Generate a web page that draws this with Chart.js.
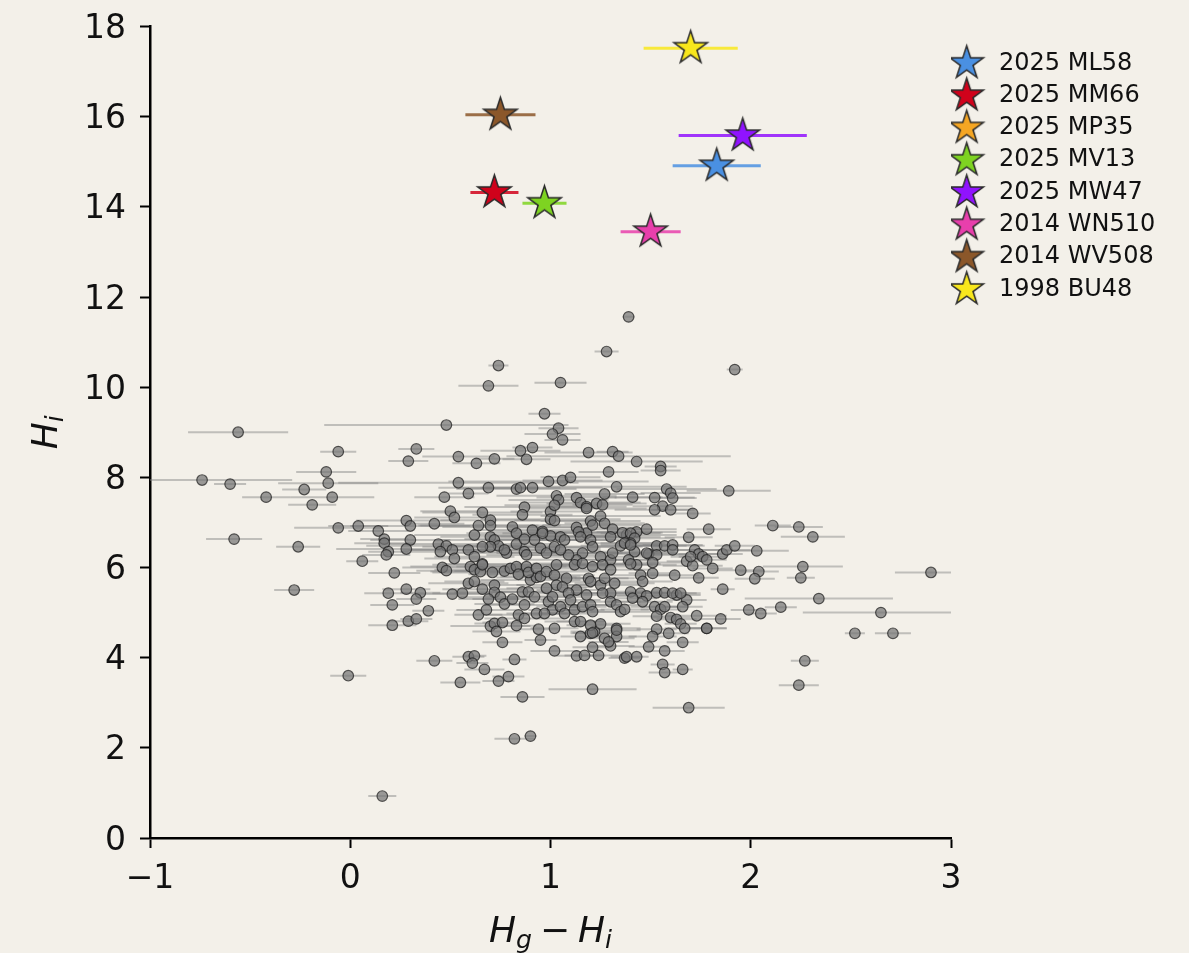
<!DOCTYPE html>
<html><head><meta charset="utf-8">
<script src="https://cdn.jsdelivr.net/npm/chart.js@4.4.1/dist/chart.umd.min.js"></script>
<style>html,body{margin:0;padding:0;background:#f3f0e9;}canvas{display:block;}</style>
</head><body>
<canvas id="c" width="1189" height="953"></canvas>
<script>
// ---------------- data ----------------
const xTickValues = [-1, 0, 1, 2, 3];
const xTickLabels = ['\u22121', '0', '1', '2', '3'];
const yTickValues = [0, 2, 4, 6, 8, 10, 12, 14, 16, 18];
const yTickLabels = ['0', '2', '4', '6', '8', '10', '12', '14', '16', '18'];
const xTitle = 'H_g \u2212 H_i';
const yTitle = 'H_i';

const starNames = ['2025 ML58', '2025 MM66', '2025 MP35', '2025 MV13', '2025 MW47', '2014 WN510', '2014 WV508', '1998 BU48'];
const starX =   [1.83, 0.72, null, 0.97, 1.96, 1.50, 0.75, 1.70];
const starY =   [14.91, 14.32, null, 14.08, 15.58, 13.45, 16.04, 17.52];
const starErr = [0.22, 0.12, null, 0.11, 0.32, 0.15, 0.175, 0.235];
const starColors = ['#4a90e2', '#d0021b', '#f5a623', '#7ed321', '#9013fe', '#e83fac', '#8b572a', '#f8e71c'];

const grayX = [
1.39,1.28,0.74,0.69,1.05,1.92,0.97,-0.56,0.48,1.04,
1.01,1.06,-0.06,0.33,0.85,0.91,1.19,1.31,1.34,0.54,
0.72,0.88,0.29,1.43,0.63,1.55,1.55,1.29,-0.74,-0.60,
-0.12,-0.11,-0.23,-0.42,-0.09,-0.19,0.54,0.47,0.59,0.69,
0.83,0.85,0.91,0.99,1.06,1.10,1.33,1.27,1.41,1.58,
1.60,1.61,1.52,1.56,1.60,1.52,1.89,1.71,1.03,1.04,
1.13,1.15,1.23,1.26,1.18,0.50,0.52,0.66,0.87,0.86,
1.00,1.00,1.02,1.25,1.20,1.27,1.13,1.18,1.14,-0.06,
0.04,0.14,0.17,0.17,0.19,0.18,0.28,0.30,0.30,0.28,
0.42,0.64,0.70,0.70,0.62,0.44,0.48,0.51,0.45,0.52,
0.59,0.70,0.72,0.74,0.78,0.81,0.83,0.83,0.87,0.88,
0.91,0.92,-0.58,-0.26,0.06,0.22,0.46,0.48,0.60,0.62,
0.65,0.66,0.71,0.77,0.80,0.83,0.84,0.88,0.90,0.93,
-0.28,0.19,0.28,0.35,0.33,0.21,0.39,0.21,0.29,0.33,
0.51,0.56,0.59,0.62,0.66,0.72,0.72,0.69,0.75,0.77,
0.81,0.86,0.89,0.92,0.87,0.84,0.87,0.93,0.64,0.68,
0.70,0.72,0.76,0.73,0.83,0.76,0.82,0.42,0.59,0.62,
0.61,0.67,0.79,0.74,0.55,-0.01,0.86,0.82,0.90,0.16,
1.69,1.21,1.79,1.69,2.11,2.24,2.31,1.53,1.57,1.61,
1.49,1.53,1.51,1.72,1.74,1.76,1.68,1.71,1.70,1.86,
1.88,1.92,2.03,1.81,1.95,2.04,2.02,1.74,1.62,2.26,
2.25,2.90,3.12,1.86,2.34,1.99,2.05,2.15,2.65,2.52,
2.71,2.27,2.24,1.73,1.85,1.78,1.66,1.66,1.56,1.57,
1.49,1.57,1.68,1.66,1.63,1.53,1.57,1.61,1.65,1.52,
1.55,1.53,1.60,1.63,1.65,1.67,1.53,1.51,1.59,1.33,
1.33,1.37,1.43,1.38,1.02,1.13,1.17,1.24,1.21,1.30,
1.27,1.15,1.22,0.94,0.95,1.02,1.12,1.15,1.25,1.20,
1.29,1.33,0.87,0.96,1.00,0.77,0.70,0.66,0.62,0.66,
0.95,0.98,1.02,0.96,1.02,1.18,1.21,1.31,1.38,1.43,
1.48,1.36,1.40,1.42,1.35,1.40,1.42,1.30,1.37,1.40,
1.61,1.05,1.07,1.15,1.20,1.21,1.16,1.13,1.09,1.25,
1.30,1.31,1.05,1.48,1.43,1.39,1.78,1.12,1.16,1.21,
1.26,1.30,1.40,0.89,0.93,0.95,0.98,1.02,1.03,1.08,
1.03,1.06,1.19,1.20,1.25,1.27,1.32,1.45,1.51,1.46,
1.30,1.26,0.98,0.99,1.01,0.97,1.13,1.09,1.18,1.10,
1.05,1.01,1.07,1.12,1.16,1.20,1.21,1.30,1.33,1.35,
1.37,1.40,1.45,1.48,1.41,1.46,1.57,1.78,1.20,1.21
];
const grayY = [
11.56,10.79,10.48,10.03,10.10,10.39,9.41,9.00,9.16,9.09,
8.96,8.83,8.57,8.63,8.59,8.66,8.55,8.57,8.47,8.46,
8.41,8.40,8.36,8.35,8.31,8.24,8.15,8.12,7.94,7.85,
8.12,7.87,7.73,7.56,7.56,7.39,7.88,7.56,7.64,7.77,
7.74,7.77,7.77,7.91,7.93,8.00,7.79,7.63,7.56,7.74,
7.65,7.54,7.55,7.36,7.28,7.28,7.70,7.20,7.59,7.50,
7.55,7.44,7.42,7.39,7.35,7.25,7.11,7.22,7.34,7.17,
7.24,7.07,7.04,7.14,7.03,6.98,6.89,6.76,6.79,6.88,
6.92,6.81,6.63,6.54,6.35,6.28,7.04,6.92,6.61,6.41,
6.97,6.93,7.05,6.93,6.72,6.52,6.48,6.39,6.35,6.20,
6.39,6.68,6.61,6.48,6.32,6.90,6.76,6.52,6.35,6.28,
6.83,6.61,6.63,6.46,6.14,5.88,6.00,5.93,6.02,5.95,
5.91,6.08,5.89,5.92,5.98,6.02,5.85,6.02,5.72,5.78,
5.50,5.43,5.52,5.44,5.30,5.17,5.04,4.72,4.81,4.86,
5.41,5.43,5.65,5.69,5.52,5.61,5.45,5.30,5.34,5.19,
5.30,5.46,5.46,5.35,5.17,4.95,4.87,4.98,4.95,5.06,
4.70,4.76,4.78,4.58,4.71,4.34,3.96,3.93,4.02,4.04,
3.88,3.74,3.58,3.48,3.45,3.60,3.13,2.20,2.26,0.93,
2.89,3.30,6.85,6.67,6.93,6.90,6.68,6.48,6.48,6.50,
6.30,6.28,6.11,6.39,6.30,6.24,6.14,6.04,6.24,6.30,
6.39,6.48,6.37,5.98,5.94,5.91,5.75,5.77,5.83,6.02,
5.77,5.89,5.37,5.52,5.31,5.06,4.98,5.12,5.00,4.54,
4.54,3.93,3.39,4.93,4.86,4.65,4.34,3.74,3.85,3.67,
4.24,4.15,5.28,5.13,5.39,5.44,5.44,5.43,5.43,5.13,
5.07,4.92,4.89,4.85,4.75,4.65,4.63,4.47,4.54,4.65,
4.47,3.99,4.02,4.02,4.15,4.04,4.05,4.05,4.23,4.26,
4.43,4.47,4.58,4.63,4.39,4.65,4.80,4.80,4.75,4.54,
4.35,4.61,6.63,6.80,6.70,6.39,6.46,6.46,6.24,6.06,
6.43,6.32,6.46,6.76,7.38,7.31,6.94,6.85,6.72,6.79,
6.85,6.77,6.76,6.65,6.48,6.54,6.35,6.68,6.54,6.50,
6.39,6.68,6.61,6.68,6.61,6.46,6.32,6.17,6.28,6.24,
6.17,6.32,6.39,6.32,6.06,6.17,6.17,6.06,6.09,6.02,
6.06,5.95,6.08,5.89,5.98,5.80,5.91,5.83,6.06,5.76,
5.61,5.57,5.76,5.69,5.61,5.76,5.65,5.83,5.87,5.69,
5.43,5.43,5.54,5.24,5.06,4.98,5.50,5.43,5.39,5.28,
5.13,5.35,4.98,5.06,5.13,5.17,5.02,5.24,5.17,5.02,
5.07,5.46,5.43,5.37,5.32,5.24,5.13,4.65,4.72,4.55
];
const grayErr = [
0.03,0.06,0.05,0.15,0.13,0.04,0.08,0.25,0.61,0.10,
0.14,0.09,0.09,0.09,0.20,0.10,0.22,0.08,0.56,0.18,
0.10,0.12,0.10,0.33,0.12,0.08,0.10,0.15,0.45,0.08,
0.15,0.25,0.11,0.12,0.21,0.12,0.60,0.15,0.10,0.25,
0.30,0.20,0.35,0.50,0.20,0.15,0.35,0.20,0.15,0.25,
0.15,0.12,0.20,0.15,0.10,0.20,0.21,0.09,0.30,0.25,
0.20,0.30,0.25,0.15,0.20,0.15,0.20,0.30,0.30,0.25,
0.20,0.35,0.20,0.30,0.25,0.20,0.30,0.25,0.20,0.22,
0.15,0.15,0.12,0.15,0.10,0.12,0.25,0.30,0.20,0.35,
0.15,0.30,0.25,0.35,0.30,0.30,0.40,0.25,0.20,0.15,
0.30,0.25,0.30,0.30,0.25,0.35,0.25,0.20,0.30,0.20,
0.30,0.25,0.14,0.11,0.08,0.13,0.20,0.15,0.30,0.20,
0.25,0.20,0.30,0.25,0.20,0.30,0.25,0.20,0.25,0.20,
0.10,0.12,0.12,0.10,0.10,0.11,0.08,0.12,0.10,0.08,
0.20,0.15,0.20,0.15,0.20,0.15,0.20,0.15,0.20,0.15,
0.20,0.15,0.20,0.15,0.20,0.15,0.20,0.15,0.12,0.15,
0.20,0.10,0.10,0.12,0.10,0.10,0.06,0.09,0.08,0.06,
0.08,0.10,0.08,0.08,0.10,0.09,0.11,0.10,0.03,0.07,
0.18,0.22,0.11,0.12,0.09,0.12,0.16,0.15,0.20,0.15,
0.20,0.15,0.15,0.12,0.10,0.12,0.10,0.15,0.10,0.10,
0.12,0.10,0.16,0.10,0.12,0.10,0.10,0.10,0.12,0.20,
0.07,0.18,0.12,0.06,0.37,0.09,0.08,0.08,0.39,0.05,
0.09,0.07,0.10,0.15,0.10,0.10,0.08,0.05,0.06,0.08,
0.10,0.10,0.10,0.10,0.12,0.15,0.10,0.12,0.10,0.12,
0.10,0.12,0.10,0.10,0.08,0.10,0.10,0.12,0.10,0.12,
0.10,0.08,0.06,0.08,0.12,0.10,0.10,0.12,0.10,0.12,
0.15,0.10,0.12,0.10,0.08,0.12,0.15,0.12,0.15,0.10,
0.10,0.12,0.30,0.25,0.30,0.25,0.20,0.30,0.20,0.25,
0.30,0.25,0.30,0.20,0.25,0.30,0.25,0.20,0.25,0.20,
0.15,0.20,0.15,0.20,0.20,0.15,0.20,0.25,0.20,0.15,
0.15,0.30,0.25,0.30,0.20,0.25,0.20,0.25,0.20,0.25,
0.20,0.25,0.20,0.15,0.20,0.15,0.10,0.20,0.25,0.20,
0.25,0.20,0.15,0.20,0.25,0.20,0.25,0.20,0.25,0.20,
0.20,0.15,0.20,0.15,0.20,0.15,0.20,0.15,0.12,0.15,
0.20,0.15,0.20,0.15,0.12,0.15,0.20,0.15,0.20,0.15,
0.12,0.15,0.12,0.15,0.12,0.15,0.12,0.15,0.12,0.15,
0.12,0.15,0.12,0.15,0.12,0.15,0.12,0.10,0.12,0.10
];

// ---------------- styling helpers ----------------
const FONT = '"DejaVu Sans"';
const TEXT_COLOR = '#111111';
Chart.defaults.font.family = FONT;
const STAR_R = 17.5;
const LEG_FONT = 24, LEG_PAD = 8.3, LEG_BOX = 27.7, LEG_SHIFT = -6.45;

function hexA(hex, a) {
  const n = parseInt(hex.slice(1), 16);
  return `rgba(${(n >> 16) & 255},${(n >> 8) & 255},${n & 255},${a})`;
}
function makeStar(color, offX, extraW) {
  const pad = 3;
  const w = Math.ceil(2 * (STAR_R + pad) + extraW);
  const h = Math.ceil(2 * (STAR_R + pad));
  const c = document.createElement('canvas');
  c.width = w; c.height = h;
  const g = c.getContext('2d');
  const cx = w / 2 + offX, cy = h / 2;
  g.beginPath();
  for (let k = 0; k < 10; k++) {
    const r = k % 2 === 0 ? STAR_R : STAR_R * 0.381966;
    const a = -Math.PI / 2 + k * Math.PI / 5;
    const px = cx + r * Math.cos(a), py = cy + r * Math.sin(a);
    if (k === 0) g.moveTo(px, py); else g.lineTo(px, py);
  }
  g.closePath();
  g.fillStyle = color; g.fill();
  g.lineWidth = 1.5; g.strokeStyle = '#2a2a2a'; g.lineJoin = 'miter'; g.stroke();
  return c;
}
const starImg = starColors.map(c => makeStar(c, 0, 0));
const legendImg = starColors.map(c => makeStar(c, LEG_SHIFT, -2 * LEG_SHIFT));

// horizontal error bars, drawn through the chart's own scales
const errorBarPlugin = {
  id: 'errorBars',
  beforeDatasetsDraw(chart) {
    const {ctx, chartArea: a, scales: {x, y}} = chart;
    ctx.save();
    ctx.beginPath(); ctx.rect(a.left, a.top, a.right - a.left, a.bottom - a.top); ctx.clip();
    chart.data.datasets.forEach(ds => {
      if (!ds.errX) return;
      ctx.strokeStyle = ds.errColor; ctx.lineWidth = ds.errWidth; ctx.lineCap = 'butt';
      ds.data.forEach((p, i) => {
        const e = ds.errX[i];
        if (!p || p.x == null || e == null) return;
        const yy = y.getPixelForValue(p.y);
        ctx.beginPath();
        ctx.moveTo(x.getPixelForValue(p.x - e), yy);
        ctx.lineTo(x.getPixelForValue(p.x + e), yy);
        ctx.stroke();
      });
    });
    ctx.restore();
  }
};

// axis titles with subscripts (mathtext-like)
function drawMath(ctx, text, size) {
  const runs = [];
  for (let i = 0; i < text.length; i++) {
    const ch = text[i];
    if (ch === '_') { runs.push({t: text[i + 1], sub: true}); i++; }
    else if (ch === ' ') runs.push({space: true});
    else if (ch === '\u2212') runs.push({t: ch, upright: true});
    else runs.push({t: ch});
  }
  const items = runs.map(r => {
    if (r.space) return {space: true, adv: size * 0.22};
    let font, dy = 0;
    if (r.sub) { font = `italic ${size * 0.7}px ${FONT}`; dy = size * 0.17; }
    else if (r.upright) font = `${size}px ${FONT}`;
    else font = `italic ${size}px ${FONT}`;
    ctx.font = font;
    return {t: r.t, font, dy, adv: ctx.measureText(r.t).width};
  });
  const total = items.reduce((s, it) => s + it.adv, 0);
  let cx = -total / 2;
  ctx.textAlign = 'left'; ctx.textBaseline = 'alphabetic';
  items.forEach(it => {
    if (!it.space) { ctx.font = it.font; ctx.fillText(it.t, cx, it.dy); }
    cx += it.adv;
  });
}
const mathTitlePlugin = {
  id: 'mathTitles',
  afterDraw(chart) {
    const {ctx, chartArea: a, scales} = chart;
    ctx.save();
    ctx.fillStyle = TEXT_COLOR;
    ctx.translate((a.left + a.right) / 2, scales.x.bottom - 11);
    drawMath(ctx, chart.options.scales.x.title.text, 36);
    ctx.restore();
    ctx.save();
    ctx.fillStyle = TEXT_COLOR;
    ctx.translate(scales.y.left + 57, (a.top + a.bottom) / 2);
    ctx.rotate(-Math.PI / 2);
    drawMath(ctx, chart.options.scales.y.title.text, 36);
    ctx.restore();
  }
};

// ---------------- chart ----------------
const datasets = [{
  label: 'objects',
  data: grayX.map((x, i) => ({x, y: grayY[i]})),
  errX: grayErr, errColor: 'rgba(128,128,128,0.45)', errWidth: 2,
  pointRadius: 5.3,
  pointBackgroundColor: 'rgba(118,118,118,0.72)',
  pointBorderColor: 'rgba(25,25,25,0.7)',
  pointBorderWidth: 1.2,
  order: 1
}];
starNames.forEach((n, i) => {
  datasets.push({
    label: n,
    data: starX[i] == null ? [] : [{x: starX[i], y: starY[i]}],
    errX: [starErr[i]], errColor: hexA(starColors[i], 0.85), errWidth: 3,
    pointStyle: starImg[i], pointRadius: 12,
    backgroundColor: starColors[i], borderColor: '#2a2a2a',
    order: 0
  });
});

const axisCommon = {
  grid: {display: true, drawOnChartArea: false, drawTicks: true, tickLength: 10, tickWidth: 2, tickColor: '#000'},
  border: {display: true, color: '#000', width: 2.5}
};

const chart = new Chart(document.getElementById('c'), {
  type: 'scatter',
  data: {datasets},
  options: {
    responsive: false,
    animation: false,
    events: [],
    layout: {padding: {top: 26.5, left: 0, right: 20, bottom: 0}},
    plugins: {
      tooltip: {enabled: false},
      legend: {
        position: 'right', align: 'start', fullSize: true,
        title: {display: true, text: ' ', font: {size: 10}, padding: {top: 0, bottom: 4.5}},
        labels: {
          usePointStyle: true, pointStyleWidth: LEG_BOX, padding: LEG_PAD,
          color: TEXT_COLOR, font: {size: LEG_FONT, family: FONT},
          generateLabels: ch => ch.data.datasets.slice(1).map((ds, i) => ({
            text: ds.label, pointStyle: legendImg[i], fillStyle: ds.backgroundColor,
            strokeStyle: '#2a2a2a', lineWidth: 0, hidden: false, datasetIndex: i + 1,
            fontColor: TEXT_COLOR
          }))
        }
      }
    },
    scales: {
      x: Object.assign({}, axisCommon, {
        type: 'linear', min: -1, max: 3,
        afterFit: s => { s.height = 115; },
        afterBuildTicks: s => { s.ticks = xTickValues.map(v => ({value: v})); },
        ticks: {padding: 12, color: TEXT_COLOR, font: {size: 33},
          callback: v => xTickLabels[xTickValues.indexOf(v)]},
        title: {display: false, text: xTitle}
      }),
      y: Object.assign({}, axisCommon, {
        type: 'linear', min: 0, max: 18,
        afterFit: s => { s.width = 150; },
        afterBuildTicks: s => { s.ticks = yTickValues.map(v => ({value: v})); },
        ticks: {padding: 14, labelOffset: 3, color: TEXT_COLOR, font: {size: 33, lineHeight: 0.5},
          callback: v => yTickLabels[yTickValues.indexOf(v)]},
        title: {display: false, text: yTitle}
      })
    }
  },
  plugins: [errorBarPlugin, mathTitlePlugin]
});

// align the plot's right edge with the reference layout
const dx = chart.chartArea.right - 951;
if (Math.abs(dx) > 0.2) {
  chart.options.layout.padding.right += dx;
  chart.update();
}
</script>
</body></html>
